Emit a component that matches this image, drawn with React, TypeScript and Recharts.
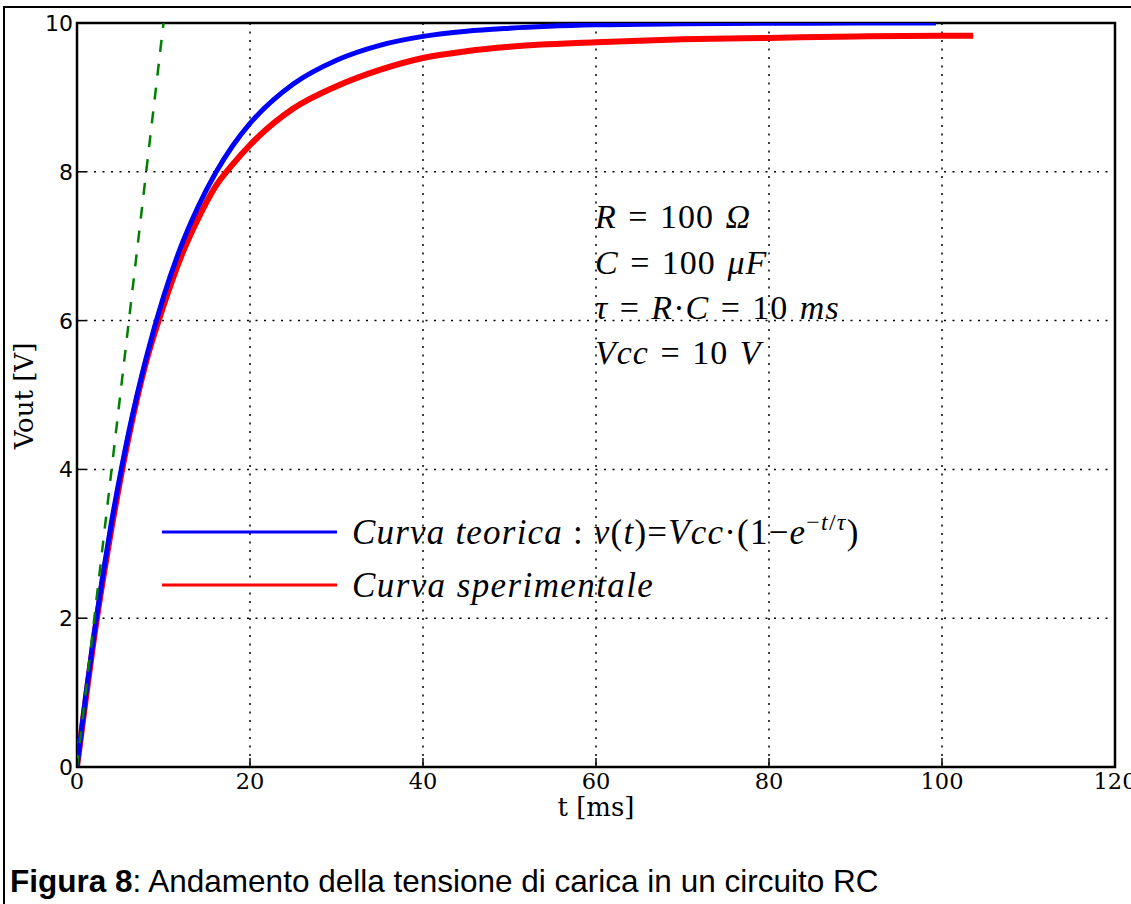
import React from 'react';
import { LineChart, Line, XAxis, YAxis, CartesianGrid, ReferenceArea, Legend } from 'recharts';

// curva teorica
const teoricaT = [0, 1, 2, 3, 4, 5, 6, 8, 10, 12, 14, 16, 18, 20, 25, 30, 35, 40, 45, 50, 60, 70, 80, 90, 99.3];
const teoricaV = [0, 0.95, 1.81, 2.59, 3.3, 3.93, 4.51, 5.5, 6.32, 6.99, 7.53, 7.98, 8.35, 8.65, 9.18, 9.5, 9.7, 9.82, 9.89, 9.93, 9.975, 9.99, 9.997, 9.999, 10];

// curva sperimentale
const sperimT = [0, 1, 2, 3, 4, 5, 6, 8, 10, 12, 14, 16, 18, 20, 25, 30, 35, 40, 45, 50, 60, 70, 80, 90, 100, 103.6];
const sperimV = [0, 0.9, 1.76, 2.52, 3.22, 3.86, 4.45, 5.45, 6.2, 6.85, 7.37, 7.8, 8.1, 8.36, 8.85, 9.15, 9.37, 9.53, 9.62, 9.68, 9.74, 9.78, 9.8, 9.82, 9.83, 9.83];

// tangente nell'origine
const tangenteT = [0, 10];
const tangenteV = [0, 10];

const xTicks = [0, 20, 40, 60, 80, 100, 120];
const yTicks = [0, 2, 4, 6, 8, 10];

const toRows = (ts: number[], vs: number[]) => ts.map((t, i) => ({ t, v: vs[i] }));

const teorica = toRows(teoricaT, teoricaV);
const sperimentale = toRows(sperimT, sperimV);
const tangente = toRows(tangenteT, tangenteV);

const serif = '"DejaVu Serif", serif';
const mathFont = '"Liberation Serif", serif';

const XTick = ({ x, y, payload }: any) => (
    <g>
        <line x1={x} x2={x} y1={y} y2={y - 9} stroke="#000" strokeWidth={1.5} />
        <text x={x} y={y + 22} textAnchor="middle" fontFamily={serif} fontSize={22.5} fill="#000">{payload.value}</text>
    </g>
);

const YTick = ({ x, y, payload }: any) => (
    <g>
        <line x1={x} x2={x + 9} y1={y} y2={y} stroke="#000" strokeWidth={1.5} />
        <text x={x - 4} y={y} dy="0.36em" textAnchor="end" fontFamily='"DejaVu Sans", sans-serif' fontSize={22} fill="#000">{payload.value}</text>
    </g>
);

const TopTick = ({ x, y }: any) => <line x1={x} x2={x} y1={y} y2={y + 9} stroke="#000" strokeWidth={1.5} />;
const RightTick = ({ x, y }: any) => <line x1={x} x2={x - 9} y1={y} y2={y} stroke="#000" strokeWidth={1.5} />;

const I = ({ children }: any) => <tspan fontStyle="italic">{children}</tspan>;

const renderLegend = () => (
    <svg width={760} height={110} style={{ overflow: 'visible' }}>
        <line x1={12} x2={187} y1={32} y2={32} stroke="#0000ff" strokeWidth={3} />
        <text x={202} y={44} fontFamily={mathFont} fontSize={35} letterSpacing={1.2} fill="#000">
            <I>Curva teorica</I> : <I>v</I>(<I>t</I>)=<I>Vcc</I>·(1−<I>e</I>
            <tspan dy={-14} fontSize={24}>−<I>t</I>/<I>τ</I></tspan>
            <tspan dy={14}>)</tspan>
        </text>
        <line x1={12} x2={187} y1={85} y2={85} stroke="#ff0000" strokeWidth={3} />
        <text x={202} y={97} fontFamily={mathFont} fontSize={35} letterSpacing={1.4} fill="#000">
            <I>Curva sperimentale</I>
        </text>
    </svg>
);

export default function App() {
    return (
        <div style={{ position: 'absolute', left: 0, top: 0, width: 1131, height: 904, overflow: 'hidden', background: '#fff' }}>
            <div style={{ position: 'absolute', left: 3, top: 6, width: 1140, height: 920, border: '2.5px solid #000' }} />
            <div style={{ position: 'absolute', left: 0, top: 0 }}>
                <LineChart width={1131} height={840} margin={{ top: 23, right: 16, left: 0, bottom: 33 }}>
                    <CartesianGrid stroke="#000" strokeWidth={1.5} strokeDasharray="2 6.5" />
                    <XAxis dataKey="t" type="number" domain={[0, 120]} ticks={xTicks} allowDataOverflow
                        axisLine={false} tickLine={false} tickSize={0} tickMargin={0} height={40} tick={<XTick />} interval={0} />
                    <XAxis xAxisId="top" orientation="top" type="number" domain={[0, 120]} ticks={xTicks}
                        axisLine={false} tickLine={false} tickSize={0} tickMargin={0} height={0} tick={<TopTick />} interval={0} />
                    <YAxis type="number" domain={[0, 10]} ticks={yTicks} allowDataOverflow
                        axisLine={false} tickLine={false} tickSize={0} tickMargin={0} width={77} tick={<YTick />} interval={0} />
                    <YAxis yAxisId="right" orientation="right" type="number" domain={[0, 10]} ticks={yTicks}
                        axisLine={false} tickLine={false} tickSize={0} tickMargin={0} width={0} tick={<RightTick />} interval={0} />
                    <Line data={sperimentale} dataKey="v" type="monotone" stroke="#ff0000" strokeWidth={6} dot={false} isAnimationActive={false} />
                    <Line data={teorica} dataKey="v" type="monotone" stroke="#0000ff" strokeWidth={5} dot={false} isAnimationActive={false} />
                    <Line data={tangente} dataKey="v" type="linear" stroke="#008000" strokeWidth={2.5} strokeDasharray="12 12" dot={false} isAnimationActive={false} />
                    <ReferenceArea x1={0} x2={120} y1={0} y2={10} fill="none" stroke="#000" strokeWidth={2.5} ifOverflow="visible" />
                    <Legend layout="vertical" verticalAlign="middle" align="center" content={renderLegend}
                        wrapperStyle={{ position: 'absolute', left: 150, top: 500, width: 760, height: 110 }} />
                </LineChart>
            </div>
            <svg width={1131} height={904} style={{ position: 'absolute', left: 0, top: 0, pointerEvents: 'none' }}>
                <g fontFamily={mathFont} fontSize={34} letterSpacing={1} wordSpacing={2} fill="#000">
                    <text x={595} y={228}><I>R</I> = 100 <I>Ω</I></text>
                    <text x={595} y={274}><I>C</I> = 100 <I>μF</I></text>
                    <text x={595} y={319}><I>τ</I> = <I>R</I>·<I>C</I> = 10 <I>ms</I></text>
                    <text x={595} y={364}><I>Vcc</I> = 10 <I>V</I></text>
                </g>
                <text x={596} y={816} textAnchor="middle" fontFamily={serif} fontSize={26} fill="#000">t [ms]</text>
                <text transform="translate(33 396) rotate(-90)" textAnchor="middle" fontFamily={serif} fontSize={26} fill="#000">Vout [V]</text>
                <text x={10} y={892} fontFamily='"Liberation Sans", Arial, sans-serif' fontSize={31.5} fill="#000">
                    <tspan fontWeight="bold">Figura 8</tspan>: Andamento della tensione di carica in un circuito RC
                </text>
            </svg>
        </div>
    );
}
